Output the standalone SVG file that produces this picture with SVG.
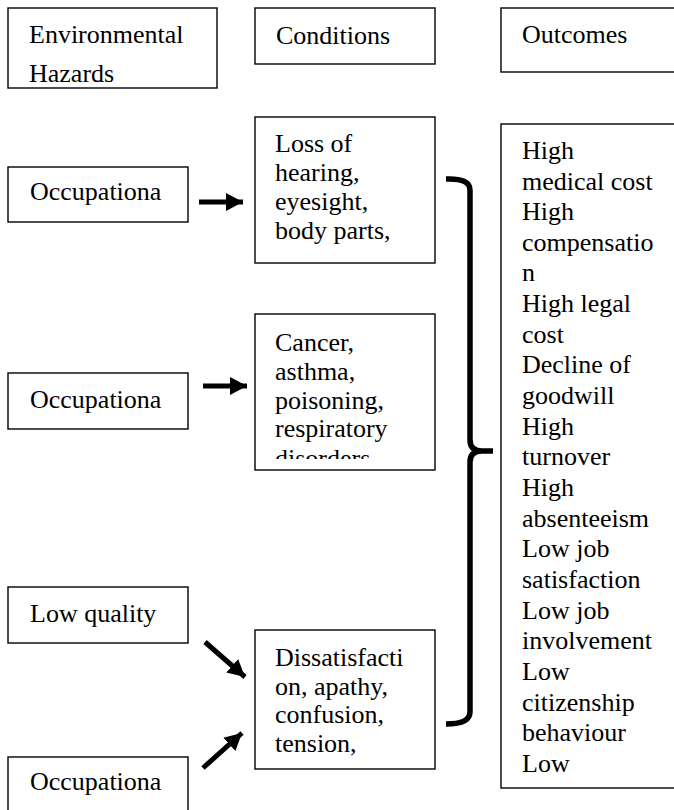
<svg xmlns="http://www.w3.org/2000/svg" width="674" height="810" viewBox="0 0 674 810">
  <style>
    .box { fill: #ffffff; stroke: #000000; stroke-width: 1.4; }
    .lbl { font-family: 'Liberation Serif', 'Times New Roman', Times, serif; font-size: 26px; fill: #000000; }
    .arrow { stroke: #000000; stroke-width: 5; fill: none; marker-end: url(#head); }
    .brace { stroke: #000000; stroke-width: 5.5; fill: none; stroke-linecap: butt; }
  </style>
  <defs>
    <marker id="head" markerUnits="userSpaceOnUse" markerWidth="18" markerHeight="18" refX="17" refY="9" orient="auto">
      <path d="M0,0 L17,9 L0,18 Z" fill="#000000"/>
    </marker>
    <!-- text area of the cancer box: the last line is cut off -->
    <clipPath id="clip-cancer">
      <rect x="255" y="314" width="180" height="145"/>
    </clipPath>
  </defs>
  <rect width="674" height="810" fill="#ffffff"/>

  <!-- column headers -->
  <g id="hdr-hazards">
    <rect class="box" x="8" y="8" width="209" height="80"/>
    <text class="lbl" x="29" y="43">Environmental</text>
    <text class="lbl" x="29" y="82">Hazards</text>
  </g>
  <g id="hdr-conditions">
    <rect class="box" x="255" y="8" width="180" height="56"/>
    <text class="lbl" x="276" y="44">Conditions</text>
  </g>
  <g id="hdr-outcomes">
    <rect class="box" x="501" y="8" width="200" height="64"/>
    <text class="lbl" x="522" y="43">Outcomes</text>
  </g>

  <!-- hazards -->
  <g id="haz-occupational-1">
    <rect class="box" x="8" y="167" width="180" height="55"/>
    <text class="lbl" x="30" y="200">Occupationa</text>
  </g>
  <g id="haz-occupational-2">
    <rect class="box" x="8" y="373" width="180" height="56"/>
    <text class="lbl" x="30" y="408">Occupationa</text>
  </g>
  <g id="haz-low-quality">
    <rect class="box" x="8" y="587" width="180" height="56"/>
    <text class="lbl" x="30" y="622">Low quality</text>
  </g>
  <g id="haz-occupational-3">
    <rect class="box" x="8" y="757" width="180" height="80"/>
    <text class="lbl" x="30" y="790">Occupationa</text>
  </g>

  <!-- conditions -->
  <g id="cond-loss">
    <rect class="box" x="255" y="117" width="180" height="146"/>
    <text class="lbl" x="275" y="152">Loss of</text>
    <text class="lbl" x="275" y="181">hearing,</text>
    <text class="lbl" x="275" y="210">eyesight,</text>
    <text class="lbl" x="275" y="239">body parts,</text>
  </g>
  <g id="cond-cancer">
    <rect class="box" x="255" y="314" width="180" height="156"/>
    <g clip-path="url(#clip-cancer)">
      <text class="lbl" x="275" y="351">Cancer,</text>
      <text class="lbl" x="275" y="380">asthma,</text>
      <text class="lbl" x="275" y="409">poisoning,</text>
      <text class="lbl" x="275" y="437">respiratory</text>
      <text class="lbl" x="275" y="467">disorders</text>
    </g>
  </g>
  <g id="cond-dissatisfaction">
    <rect class="box" x="255" y="630" width="180" height="139"/>
    <text class="lbl" x="275" y="666">Dissatisfacti</text>
    <text class="lbl" x="275" y="695">on, apathy,</text>
    <text class="lbl" x="275" y="723">confusion,</text>
    <text class="lbl" x="275" y="752">tension,</text>
  </g>

  <!-- outcomes -->
  <g id="outcomes-list">
    <rect class="box" x="501" y="124" width="200" height="664"/>
    <text class="lbl" x="522" y="159">High</text>
    <text class="lbl" x="522" y="190">medical cost</text>
    <text class="lbl" x="522" y="220">High</text>
    <text class="lbl" x="522" y="251">compensatio</text>
    <text class="lbl" x="522" y="281">n</text>
    <text class="lbl" x="522" y="312">High legal</text>
    <text class="lbl" x="522" y="343">cost</text>
    <text class="lbl" x="522" y="373">Decline of</text>
    <text class="lbl" x="522" y="404">goodwill</text>
    <text class="lbl" x="522" y="435">High</text>
    <text class="lbl" x="522" y="465">turnover</text>
    <text class="lbl" x="522" y="496">High</text>
    <text class="lbl" x="522" y="527">absenteeism</text>
    <text class="lbl" x="522" y="557">Low job</text>
    <text class="lbl" x="522" y="588">satisfaction</text>
    <text class="lbl" x="522" y="619">Low job</text>
    <text class="lbl" x="522" y="649">involvement</text>
    <text class="lbl" x="522" y="680">Low</text>
    <text class="lbl" x="522" y="711">citizenship</text>
    <text class="lbl" x="522" y="741">behaviour</text>
    <text class="lbl" x="522" y="772">Low</text>
  </g>

  <!-- connectors -->
  <g id="connectors">
    <line class="arrow" x1="199" y1="202" x2="243" y2="202"/>
    <line class="arrow" x1="203" y1="386" x2="247" y2="386"/>
    <line class="arrow" x1="205" y1="642" x2="245" y2="677"/>
    <line class="arrow" x1="203" y1="768" x2="242" y2="733"/>
    <path class="brace" d="M446,179 Q470,178 470,190 V440 Q470,451 482,451 H493 M482,451 Q470,451 470,462 V712 Q470,724 446,724"/>
  </g>
</svg>
